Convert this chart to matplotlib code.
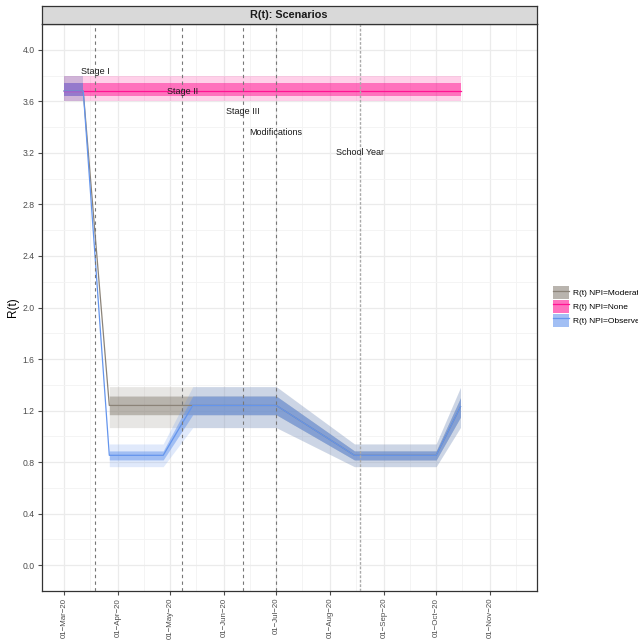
import numpy as np
import matplotlib
matplotlib.use("Agg")
import matplotlib.pyplot as plt
import matplotlib.dates as mdates
from matplotlib.patches import Patch
from matplotlib.lines import Line2D
from datetime import datetime

plt.rcParams['font.family'] = ['Liberation Sans', 'DejaVu Sans']

# series: NPI=Observed
obs_dates = ["2020-03-01", "2020-03-12", "2020-03-27", "2020-04-27", "2020-05-14",
             "2020-07-01", "2020-08-15", "2020-10-01", "2020-10-15"]
obs_mid = [3.68, 3.68, 0.853, 0.853, 1.24, 1.24, 0.853, 0.853, 1.23]
obs_lo95 = [3.60, 3.60, 0.765, 0.765, 1.068, 1.068, 0.765, 0.765, 1.07]
obs_hi95 = [3.80, 3.80, 0.941, 0.941, 1.386, 1.386, 0.941, 0.941, 1.38]
obs_lo50 = [3.643, 3.643, 0.817, 0.817, 1.168, 1.168, 0.817, 0.817, 1.15]
obs_hi50 = [3.742, 3.742, 0.887, 0.887, 1.313, 1.313, 0.887, 0.887, 1.30]

# series: NPI=Moderate
mod_dates = ["2020-03-01", "2020-03-12", "2020-03-27", "2020-05-14",
             "2020-07-01", "2020-08-15", "2020-10-01", "2020-10-15"]
mod_mid = [3.68, 3.68, 1.24, 1.24, 1.24, 0.853, 0.853, 1.23]
mod_lo95 = [3.60, 3.60, 1.068, 1.068, 1.068, 0.765, 0.765, 1.07]
mod_hi95 = [3.80, 3.80, 1.386, 1.386, 1.386, 0.941, 0.941, 1.38]
mod_lo50 = [3.643, 3.643, 1.168, 1.168, 1.168, 0.817, 0.817, 1.15]
mod_hi50 = [3.742, 3.742, 1.313, 1.313, 1.313, 0.887, 0.887, 1.30]

# series: NPI=None
non_dates = ["2020-03-01", "2020-10-15"]
non_mid = [3.68, 3.68]
non_lo95 = [3.60, 3.60]
non_hi95 = [3.80, 3.80]
non_lo50 = [3.643, 3.643]
non_hi50 = [3.742, 3.742]

# interventions
event_dates = ["2020-03-19", "2020-05-08", "2020-06-12", "2020-07-01", "2020-08-18"]
event_labels = ["Stage I", "Stage II", "Stage III", "Modifications", "School Year"]
event_label_y = [3.835, 3.68, 3.52, 3.36, 3.20]

xtick_dates = ["2020-03-01", "2020-04-01", "2020-05-01", "2020-06-01", "2020-07-01",
               "2020-08-01", "2020-09-01", "2020-10-01", "2020-11-01"]
ytick_vals = [0.0, 0.4, 0.8, 1.2, 1.6, 2.0, 2.4, 2.8, 3.2, 3.6, 4.0]


def d(lst):
    return [datetime.strptime(s, "%Y-%m-%d") for s in lst]


fig = plt.figure(figsize=[6.38, 6.41], dpi=100)
ax = fig.add_axes([41.5 / 638, 50 / 641, 495.5 / 638, 567 / 641])

series = [
    ("R(t) NPI=Moderate", "#8B8378", mod_dates, mod_mid, mod_lo95, mod_hi95, mod_lo50, mod_hi50),
    ("R(t) NPI=None", "#FF1493", non_dates, non_mid, non_lo95, non_hi95, non_lo50, non_hi50),
    ("R(t) NPI=Observed", "#6495ED", obs_dates, obs_mid, obs_lo95, obs_hi95, obs_lo50, obs_hi50),
]

handles = []
for name, col, dts, mid, lo95, hi95, lo50, hi50 in series:
    x = np.array(d(dts))
    # ribbons are broken over the drop (Mar 12 - Mar 27)
    segs = [slice(0, 2), slice(2, None)] if len(x) > 2 else [slice(0, None)]
    for s in segs:
        ax.fill_between(x[s], np.array(lo95)[s], np.array(hi95)[s], color=col, alpha=0.2, lw=0, zorder=2)
        ax.fill_between(x[s], np.array(lo50)[s], np.array(hi50)[s], color=col, alpha=0.5, lw=0, zorder=2)
    ax.plot(x, mid, color=col, lw=0.9, zorder=3)
    handles.append((Patch(facecolor=col, alpha=0.6, lw=0), Line2D([], [], color=col, lw=0.9)))

for i, (ed, lab, ly) in enumerate(zip(d(event_dates), event_labels, event_label_y)):
    if lab == "School Year":
        ax.axvline(ed, color="#aaaaaa", lw=1.0, ls=(0, (2, 1.2)), zorder=4)
    else:
        ax.axvline(ed, color="#777777", lw=0.8, ls=(0, (3, 3)), zorder=4)
    ax.text(ed, ly, lab, ha="center", va="center", fontsize=6.5, color="#1a1a1a", zorder=5)

ax.set_xlim(datetime(2020, 2, 17), datetime(2020, 11, 28))
ax.set_ylim(-0.2, 4.2)
ax.set_xticks(d(xtick_dates))
ax.xaxis.set_major_formatter(mdates.DateFormatter("%d\u2212%b\u221220"))
ax.xaxis.set_minor_locator(mdates.DayLocator(bymonthday=16))
ax.set_yticks(ytick_vals)
ax.set_yticklabels(["%.1f" % v for v in ytick_vals])
ax.set_yticks(np.arange(-0.2, 4.21, 0.4), minor=True)
ax.grid(True, which="major", color="#ebebeb", lw=0.9, zorder=0)
ax.grid(True, which="minor", color="#f3f3f3", lw=0.6, zorder=0)
ax.set_axisbelow(True)
ax.tick_params(axis="x", which="major", labelrotation=90, labelsize=5.7, colors="#4d4d4d",
               length=3, pad=2)
ax.tick_params(axis="y", which="major", labelsize=6.2, colors="#4d4d4d", length=3, pad=2)
ax.tick_params(which="minor", length=0)
for sp in ax.spines.values():
    sp.set_color("#333333")
    sp.set_linewidth(0.9)
ax.set_ylabel("R(t)", fontsize=8.5)
ax.yaxis.set_label_coords(-0.045, 0.5)

# facet strip
sax = fig.add_axes([41.5 / 638, 617 / 641, 495.5 / 638, 18 / 641])
sax.set_facecolor("#d9d9d9")
sax.set_xticks([])
sax.set_yticks([])
for sp in sax.spines.values():
    sp.set_color("#333333")
    sp.set_linewidth(0.9)
sax.text(0.5, 0.5, "R(t): Scenarios", ha="center", va="center", fontsize=7.8,
         fontweight="bold", color="#1a1a1a", transform=sax.transAxes)

fig.legend(handles, [s[0] for s in series], loc="upper left",
           bbox_to_anchor=(553 / 638, 1 - 286 / 641), frameon=False, fontsize=6.0,
           handlelength=1.9, handleheight=2.1, labelspacing=0.05, handletextpad=0.45,
           borderaxespad=0, borderpad=0)

plt.savefig("out.png", dpi=100)
